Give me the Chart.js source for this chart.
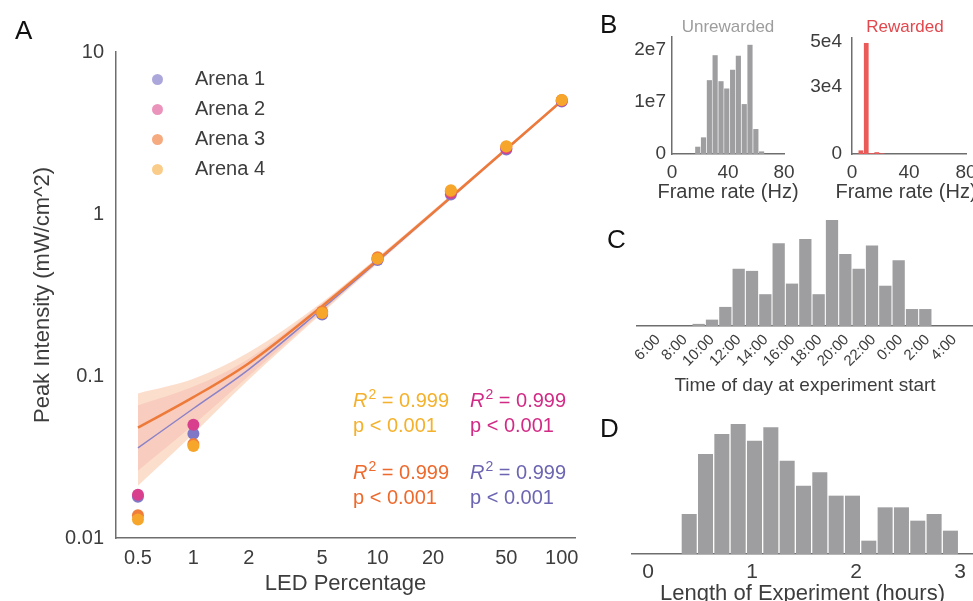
<!DOCTYPE html>
<html>
<head>
<meta charset="utf-8">
<script src="https://cdn.jsdelivr.net/npm/chart.js@4.4.1/dist/chart.umd.min.js"></script>
<style>
body { margin:0; width:973px; height:601px; overflow:hidden; background:#fff; position:relative;
       font-family:"Liberation Sans", Arial, Helvetica, sans-serif; }
canvas { position:absolute; }
.t { position:absolute; line-height:1; white-space:nowrap; }
.letter { font-size:26px; color:#111; }
.leg { font-size:20px; color:#3d3d3d; }
.dot { position:absolute; width:11px; height:11px; border-radius:50%; }
.stat { font-size:20px; }
.sup { font-size:0.7em; position:relative; top:-0.55em; margin-left:1px; }
.axt { font-size:20px; color:#3d3d3d; text-align:center; width:200px; }
</style>
</head>
<body>
<canvas id="chartA" width="590" height="601" style="left:0;top:0"></canvas>
<canvas id="chartB1" width="220" height="210" style="left:590px;top:0"></canvas>
<canvas id="chartB2" width="183" height="210" style="left:790px;top:0"></canvas>
<canvas id="chartC" width="383" height="197" style="left:590px;top:200px"></canvas>
<canvas id="chartD" width="383" height="210" style="left:590px;top:400px"></canvas>

<div class="t letter" style="left:15px;top:17px">A</div>
<div class="t letter" style="left:600px;top:11px">B</div>
<div class="t letter" style="left:607px;top:226px">C</div>
<div class="t letter" style="left:600px;top:415px">D</div>

<div class="t" style="left:628px;top:18px;width:200px;text-align:center;font-size:17px;color:#9d9d9d">Unrewarded</div>
<div class="t" style="left:805px;top:18px;width:200px;text-align:center;font-size:17px;color:#e2474d">Rewarded</div>
<div class="t axt" style="left:628px;top:181px">Frame rate (Hz)</div>
<div class="t axt" style="left:806px;top:181px">Frame rate (Hz)</div>

<div id="legendA"></div>

<div class="t stat" style="left:353px;top:390px;color:#f4b12c"><i>R</i><span class="sup">2</span> = 0.999</div>
<div class="t stat" style="left:353px;top:415px;color:#f4b12c">p &lt; 0.001</div>
<div class="t stat" style="left:470px;top:390px;color:#d22b86"><i>R</i><span class="sup">2</span> = 0.999</div>
<div class="t stat" style="left:470px;top:415px;color:#d22b86">p &lt; 0.001</div>
<div class="t stat" style="left:353px;top:462px;color:#ee692c"><i>R</i><span class="sup">2</span> = 0.999</div>
<div class="t stat" style="left:353px;top:487px;color:#ee692c">p &lt; 0.001</div>
<div class="t stat" style="left:470px;top:462px;color:#6c65b2"><i>R</i><span class="sup">2</span> = 0.999</div>
<div class="t stat" style="left:470px;top:487px;color:#6c65b2">p &lt; 0.001</div>

<script>
// ---- panel A: LED calibration ----
var ledPct = [0.5, 1, 5, 10, 25, 50, 100];
var arenaNames = ['Arena 1', 'Arena 2', 'Arena 3', 'Arena 4'];
var arena1 = [0.018, 0.044, 0.24, 0.52, 1.32, 2.50, 4.95];
var arena2 = [0.0185, 0.050, 0.245, 0.53, 1.35, 2.55, 5.00];
var arena3 = [0.0138, 0.038, 0.25, 0.54, 1.38, 2.60, 5.05];
var arena4 = [0.0130, 0.037, 0.245, 0.53, 1.40, 2.62, 5.05];

var fitX = [0.5, 1, 2, 5, 10, 25, 50, 100];
var fitOrange = [0.048, 0.074, 0.12, 0.27, 0.52, 1.27, 2.52, 5.0];
var fitPurple = [0.036, 0.063, 0.11, 0.26, 0.51, 1.26, 2.50, 4.98];
var bandHigh = [0.078, 0.096, 0.14, 0.285, 0.54, 1.31, 2.58, 5.12];
var bandLow = [0.021, 0.044, 0.095, 0.245, 0.495, 1.23, 2.45, 4.88];
var bandHigh2 = [0.066, 0.086, 0.128, 0.28, 0.535, 1.30, 2.56, 5.08];
var bandLow2 = [0.026, 0.050, 0.10, 0.25, 0.50, 1.24, 2.47, 4.92];

var xTicksA = [0.5, 1, 2, 5, 10, 20, 50, 100];
var yTicksA = [0.01, 0.1, 1, 10];

// ---- panel B: frame rate histograms ----
var unrewHz = [18.4, 22.5, 26.7, 30.8, 35.0, 39.1, 43.3, 47.4, 51.6, 55.7, 59.9, 64.0];
var unrewCount = [1.4e6, 3.2e6, 1.42e7, 1.90e7, 1.40e7, 1.26e7, 1.62e7, 1.89e7, 0.96e7, 2.10e7, 0.48e7, 0.05e7];
var rewHz = [6.25, 10.0, 13.7, 17.4, 21.1];
var rewCount = [1600, 49300, 400, 800, 300];

// ---- panel C: time of day ----
var startHour = [9.02, 10.01, 11.00, 11.99, 12.98, 13.97, 14.96, 15.95, 16.94, 17.93, 18.92, 19.91, 20.90, 21.89, 22.88, 23.87, 24.86, 25.85];
var startCount = [1, 3, 9, 27, 26, 15, 39, 20, 41, 15, 50, 34, 27, 38, 19, 31, 8, 8];
var hourTicks = [6, 8, 10, 12, 14, 16, 18, 20, 22, 24, 26, 28];

// ---- panel D: experiment length ----
var lengthHours = [0.396, 0.553, 0.710, 0.867, 1.024, 1.181, 1.338, 1.495, 1.652, 1.809, 1.966, 2.123, 2.280, 2.437, 2.594, 2.751, 2.908];
var lengthCount = [12, 30, 36, 39, 34, 38, 28, 20.5, 24.5, 17.5, 17.5, 4, 14, 14, 10, 12, 7];
var lengthTicks = [0, 1, 2, 3];

var arenaColors = ['#7f78c6', '#d8408e', '#f07d3a', '#f6a62a'];
var legendColors = ['rgba(127,120,198,0.65)', 'rgba(224,90,150,0.65)', 'rgba(240,125,58,0.65)', 'rgba(246,170,60,0.6)'];
var barGray = '#9e9ea0';
var axisGray = '#6e6e6e';

Chart.defaults.font.family = "'Liberation Sans', Arial, Helvetica, sans-serif";
Chart.defaults.color = '#3d3d3d';
Chart.defaults.animation = false;
Chart.defaults.plugins.legend.display = false;
Chart.defaults.plugins.tooltip.enabled = false;

function pts(xs, ys) {
  return xs.map(function (x, i) { return { x: x, y: ys[i] }; });
}
function setTicks(list) {
  return function (s) { s.ticks = list.map(function (v) { return { value: v }; }); };
}
function fixX(h) {
  return function (s) { s.height = h; s.paddingLeft = 0; s.paddingRight = 0; };
}
function fixY(w) {
  return function (s) { s.width = w; s.paddingTop = 0; s.paddingBottom = 0; };
}
var noGrid = { display: false, drawTicks: false };
var border = { display: true, color: axisGray, width: 1.5 };

// legend of panel A (inside the plot)
var legHtml = '';
arenaNames.forEach(function (name, i) {
  legHtml += '<div class="dot" style="left:152px;top:' + (74 + 30 * i) + 'px;background:' + legendColors[i] + '"></div>';
  legHtml += '<div class="t leg" style="left:195px;top:' + (68 + 30 * i) + 'px">' + name + '</div>';
});
document.getElementById('legendA').innerHTML = legHtml;

var arenaData = [arena1, arena2, arena3, arena4];
var dsA = [];
arenaData.forEach(function (vals, i) {
  dsA.push({
    label: arenaNames[i],
    data: pts(ledPct, vals),
    backgroundColor: arenaColors[i],
    borderWidth: 0,
    pointRadius: 6,
    order: 4 - i
  });
});
dsA.push({ type: 'line', data: pts(fitX, fitOrange), borderColor: '#ee7a3a', borderWidth: 2.5,
  pointRadius: 0, tension: 0.4, cubicInterpolationMode: 'monotone', fill: false, order: 5 });
dsA.push({ type: 'line', data: pts(fitX, fitPurple), borderColor: '#8a82c8', borderWidth: 1.5,
  pointRadius: 0, tension: 0.4, cubicInterpolationMode: 'monotone', fill: false, order: 6 });
dsA.push({ type: 'line', data: pts(fitX, bandLow), borderWidth: 0, pointRadius: 0,
  cubicInterpolationMode: 'monotone', fill: false, order: 10 });
dsA.push({ type: 'line', data: pts(fitX, bandHigh), borderWidth: 0, pointRadius: 0,
  cubicInterpolationMode: 'monotone', fill: '-1', backgroundColor: 'rgba(245,160,110,0.35)', order: 9 });
dsA.push({ type: 'line', data: pts(fitX, bandLow2), borderWidth: 0, pointRadius: 0,
  cubicInterpolationMode: 'monotone', fill: false, order: 8 });
dsA.push({ type: 'line', data: pts(fitX, bandHigh2), borderWidth: 0, pointRadius: 0,
  cubicInterpolationMode: 'monotone', fill: '-1', backgroundColor: 'rgba(235,130,130,0.18)', order: 7 });

new Chart(document.getElementById('chartA'), {
  type: 'scatter',
  data: { datasets: dsA },
  options: {
    responsive: false,
    layout: { padding: { top: 52, right: 15, left: 0, bottom: 0 } },
    scales: {
      x: {
        type: 'logarithmic', min: 0.38, max: 118, bounds: 'data',
        grid: noGrid, border: border,
        afterBuildTicks: setTicks(xTicksA),
        afterFit: fixX(63),
        ticks: { autoSkip: false, maxRotation: 0, padding: 8, font: { size: 20 },
          callback: function (v) { return String(v); } },
        title: { display: true, text: 'LED Percentage', font: { size: 22 }, padding: { top: 0, bottom: 4 } }
      },
      y: {
        type: 'logarithmic', min: 0.01, max: 10, bounds: 'data',
        grid: noGrid, border: border,
        afterBuildTicks: setTicks(yTicksA),
        afterFit: fixY(116),
        ticks: { autoSkip: false, padding: 12, font: { size: 20 },
          callback: function (v) { return String(v); } },
        title: { display: true, text: 'Peak Intensity (mW/cm^2)', font: { size: 22 }, padding: { top: 30, bottom: 0 } }
      }
    }
  }
});

function histB(id, xs, ys, color, yMax, yTicks, exp, yWidth, padTop, padRight, yPad) {
  return new Chart(document.getElementById(id), {
    type: 'bar',
    data: { datasets: [{ data: pts(xs, ys), backgroundColor: color, barPercentage: 0.9, categoryPercentage: 1 }] },
    options: {
      responsive: false,
      layout: { padding: { top: padTop, right: padRight, left: 0, bottom: 0 } },
      scales: {
        x: {
          type: 'linear', offset: false, min: 0, max: 80, grid: noGrid, border: border,
          afterBuildTicks: setTicks([0, 40, 80]),
          afterFit: fixX(56),
          ticks: { autoSkip: false, maxRotation: 0, padding: 7, font: { size: 19 } }
        },
        y: {
          min: 0, max: yMax, grid: noGrid, border: border,
          afterBuildTicks: setTicks(yTicks),
          afterFit: fixY(yWidth),
          ticks: { autoSkip: false, padding: yPad, font: { size: 19 },
            callback: function (v) { return v === 0 ? '0' : Math.round(v / Math.pow(10, exp)) + 'e' + exp; } }
        }
      }
    }
  });
}
histB('chartB1', unrewHz, unrewCount, barGray, 2.25e7, [0, 1e7, 2e7], 7, 82, 37, 26, 6);
histB('chartB2', rewHz, rewCount, '#ea5a58', 5.15e4, [0, 3e4, 5e4], 4, 62, 38, 7, 10);

new Chart(document.getElementById('chartC'), {
  type: 'bar',
  data: { datasets: [{ data: pts(startHour, startCount), backgroundColor: barGray, barPercentage: 0.92, categoryPercentage: 1 }] },
  options: {
    responsive: false,
    layout: { padding: { top: 20, right: 0, left: 47, bottom: 0 } },
    scales: {
      x: {
        type: 'linear', offset: false, min: 4.44, max: 29.39, grid: noGrid, border: border,
        afterBuildTicks: setTicks(hourTicks),
        afterFit: fixX(71),
        ticks: { autoSkip: false, minRotation: 45, maxRotation: 45, padding: 5, font: { size: 15 },
          callback: function (v) { return (v % 24) + ':00'; } },
        title: { display: true, text: 'Time of day at experiment start', font: { size: 19 }, padding: { top: 0, bottom: 0 } }
      },
      y: { display: false, min: 0, max: 50 }
    }
  }
});

new Chart(document.getElementById('chartD'), {
  type: 'bar',
  data: { datasets: [{ data: pts(lengthHours, lengthCount), backgroundColor: barGray, barPercentage: 0.92, categoryPercentage: 1 }] },
  options: {
    responsive: false,
    layout: { padding: { top: 24, right: 0, left: 42, bottom: 0 } },
    scales: {
      x: {
        type: 'linear', offset: false, min: -0.154, max: 3.125, grid: noGrid, border: border,
        afterBuildTicks: setTicks(lengthTicks),
        afterFit: fixX(56),
        ticks: { autoSkip: false, maxRotation: 0, padding: 6, font: { size: 21 } },
        title: { display: true, text: 'Length of Experiment (hours)', font: { size: 22 }, padding: { top: 0, bottom: 3 } }
      },
      y: { display: false, min: 0, max: 39 }
    }
  }
});
</script>
</body>
</html>
